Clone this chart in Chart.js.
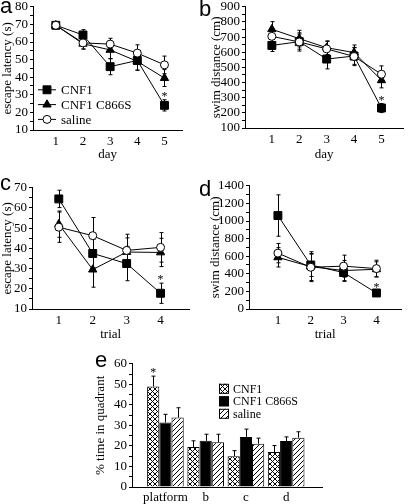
<!DOCTYPE html>
<html>
<head>
<meta charset="utf-8">
<script src="https://cdn.jsdelivr.net/npm/chart.js@4.4.1/dist/chart.umd.min.js"></script>
<style>
html, body { margin: 0; padding: 0; overflow: hidden; background: #fff; }
body { width: 408px; height: 504px; position: relative; }
canvas { position: absolute; }
.tag { position: absolute; font: 22px "Liberation Sans", Arial, sans-serif; line-height: 1; color: #000; }
</style>
</head>
<body>
<canvas id="chartA" width="189" height="170" style="left:0;top:-3px"></canvas>
<canvas id="chartB" width="206" height="170" style="left:204px;top:-3px"></canvas>
<canvas id="chartC" width="196" height="170" style="left:0;top:178px"></canvas>
<canvas id="chartD" width="204" height="172" style="left:204px;top:176px"></canvas>
<canvas id="chartE" width="238" height="150" style="left:90px;top:354px"></canvas>
<div class="tag" style="left:0;top:-5px">a</div>
<div class="tag" style="left:199px;top:-2px">b</div>
<div class="tag" style="left:0;top:172px">c</div>
<div class="tag" style="left:199px;top:178px">d</div>
<div class="tag" style="left:95px;top:349px">e</div>
<script>
const groups = ['CNF1', 'CNF1 C866S', 'saline'];
const days = [1, 2, 3, 4, 5];
const trials = [1, 2, 3, 4];
const quadrants = ['platform', 'b', 'c', 'd'];

// a: escape latency per day
const latDayCnf1 = [69.5, 64, 46, 49.5, 24];
const latDayCnf1Err = [1.5, 3, 4.6, 5.5, 3.2];
const latDayC866s = [69.5, 59, 55.5, 49, 39.5];
const latDayC866sErr = [2, 3, 5, 5, 4.8];
const latDaySaline = [69.5, 59.5, 58.8, 53.7, 47];
const latDaySalineErr = [1.5, 3.5, 3.3, 4.7, 5];
const latDayStar = [0, 0, 0, 0, 1];

// b: swim distance per day
const distDayCnf1 = [645, 670, 555, 575, 232];
const distDayCnf1Err = [40, 50, 65, 55, 30];
const distDayC866s = [752, 690, 630, 598, 415];
const distDayC866sErr = [50, 55, 45, 50, 50];
const distDaySaline = [705, 668, 622, 572, 455];
const distDaySalineErr = [50, 60, 50, 60, 55];
const distDayStar = [0, 0, 0, 0, 1];

// c: escape latency per trial
const latTrialCnf1 = [64.5, 37.5, 32.5, 17.8];
const latTrialCnf1Err = [4.3, 7, 8.5, 5];
const latTrialC866s = [52, 29.5, 38.2, 38];
const latTrialC866sErr = [6.5, 8.7, 7, 7];
const latTrialSaline = [50.5, 46.3, 39, 40.5];
const latTrialSalineErr = [7.5, 9, 8, 7.3];
const latTrialStar = [0, 0, 0, 1];

// d: swim distance per trial
const distTrialCnf1 = [1062, 500, 414, 182];
const distTrialCnf1Err = [235, 130, 100, 25];
const distTrialC866s = [587, 481, 437, 451];
const distTrialC866sErr = [110, 170, 115, 85];
const distTrialSaline = [635, 474, 487, 459];
const distTrialSalineErr = [110, 150, 125, 95];
const distTrialStar = [0, 0, 0, 1];

// e: % time in quadrant
const quadCnf1 = [49, 19.5, 15, 17];
const quadCnf1Err = [5, 3, 2.7, 3.2];
const quadC866s = [31.4, 22.5, 24.4, 22.4];
const quadC866sErr = [4, 3.2, 3.8, 2];
const quadSaline = [33.8, 21.8, 21.1, 24];
const quadSalineErr = [4.8, 3.9, 2.7, 2.9];
const quadStar = [1, 0, 0, 0];

const serif = "'Liberation Serif', 'Times New Roman', serif";
Chart.defaults.font.family = serif;
Chart.defaults.color = '#000';
const tickFont = { family: serif, size: 13 };
const titleFont = { family: serif, size: 13 };

const marks = ['rect', 'triangle', 'circle'];
const radii = [5.6, 4.8, 4];
const fills = ['#000', '#000', '#fff'];
const orders = [1, 2, 0];

function drawMark(ctx, style, x, y, r, fill) {
  ctx.beginPath();
  if (style === 'rect') {
    const s = r * Math.SQRT1_2;
    ctx.rect(x - s, y - s, 2 * s, 2 * s);
  } else if (style === 'triangle') {
    ctx.moveTo(x, y - r);
    ctx.lineTo(x + r * 0.866, y + r * 0.5);
    ctx.lineTo(x - r * 0.866, y + r * 0.5);
    ctx.closePath();
  } else {
    ctx.arc(x, y, r, 0, Math.PI * 2);
  }
  ctx.fillStyle = fill;
  ctx.fill();
  ctx.stroke();
}

const errorBars = {
  id: 'errorBars',
  beforeDatasetsDraw(chart) {
    const ctx = chart.ctx, ys = chart.scales.y;
    ctx.save();
    ctx.strokeStyle = '#000';
    ctx.lineWidth = 1;
    chart.data.datasets.forEach((ds, i) => {
      if (!ds.errors) return;
      chart.getDatasetMeta(i).data.forEach((el, j) => {
        const v = ds.data[j].y, e = ds.errors[j];
        const top = ys.getPixelForValue(v + e);
        const bot = ds.errUp ? ys.getPixelForValue(v) : ys.getPixelForValue(v - e);
        const x = Math.round(el.x) + 0.5;
        ctx.beginPath();
        ctx.moveTo(x, top); ctx.lineTo(x, bot);
        ctx.moveTo(x - 2, top); ctx.lineTo(x + 2, top);
        if (!ds.errUp) { ctx.moveTo(x - 2, bot); ctx.lineTo(x + 2, bot); }
        ctx.stroke();
      });
    });
    ctx.restore();
  },
  afterDatasetsDraw(chart) {
    const ctx = chart.ctx, ys = chart.scales.y;
    ctx.save();
    ctx.fillStyle = '#000';
    ctx.font = '12px ' + serif;
    ctx.textAlign = 'center';
    ctx.textBaseline = 'middle';
    chart.data.datasets.forEach((ds, i) => {
      if (!ds.stars) return;
      chart.getDatasetMeta(i).data.forEach((el, j) => {
        if (!ds.stars[j]) return;
        const top = ys.getPixelForValue(ds.data[j].y + ds.errors[j]);
        ctx.fillText('*', el.x, top - 3);
      });
    });
    ctx.restore();
  }
};

const legendAt = {
  id: 'legendAt',
  afterDraw(chart, args, o) {
    const ctx = chart.ctx, area = chart.chartArea;
    ctx.save();
    ctx.font = o.size + 'px ' + serif;
    ctx.textBaseline = 'middle';
    ctx.strokeStyle = '#000';
    ctx.lineWidth = 1;
    chart.data.datasets.forEach((ds, i) => {
      const x = area.left + o.x, y = area.top + o.y + i * o.gap;
      if (o.kind === 'line') {
        ctx.beginPath();
        ctx.moveTo(x, y); ctx.lineTo(x + 18, y);
        ctx.stroke();
        drawMark(ctx, marks[i], x + 9, y, radii[i], fills[i]);
      } else {
        ctx.fillStyle = ds.backgroundColor;
        ctx.fillRect(x, y - 5, 10, 10);
        ctx.strokeRect(x + 0.5, y - 4.5, 9, 9);
      }
      ctx.fillStyle = '#000';
      ctx.fillText(ds.label, x + o.textX, y + 1);
    });
    ctx.restore();
  }
};

function yAxis(p) {
  return {
    type: 'linear', min: p.yMin, max: p.yMax,
    afterFit: s => { s.width = p.yW; },
    grid: { display: true, drawOnChartArea: false, drawTicks: true, tickLength: 3, color: '#000' },
    border: { display: true, color: '#000', width: 1 },
    ticks: {
      stepSize: p.yStep / 2, autoSkip: false, padding: 2, color: '#000', font: tickFont,
      callback: v => (v % p.yStep === 0 ? v : '')
    },
    title: { display: true, text: p.yTitle, color: '#000', font: titleFont, padding: { top: p.yTitlePad, bottom: 0 } }
  };
}

function xAxis(p) {
  return {
    type: 'linear', min: p.xMin, max: p.xMax, offset: false,
    afterBuildTicks: s => { s.ticks = p.xVals.map(v => ({ value: v })); },
    afterFit: s => { s.height = p.xH; },
    grid: { display: false, drawTicks: false, offset: false },
    border: { display: true, color: '#000', width: 1 },
    ticks: {
      autoSkip: false, maxRotation: 0, padding: p.xTickPad, color: '#000', font: tickFont,
      callback: v => (p.xLabels ? p.xLabels[v] : v)
    },
    title: { display: !!p.xTitle, text: p.xTitle, color: '#000', font: titleFont, padding: { top: 0, bottom: p.xTitlePad } }
  };
}

function lineChart(id, p) {
  p.xVals = p.xs;
  new Chart(document.getElementById(id), {
    type: 'line',
    data: {
      datasets: p.series.map((s, i) => ({
        label: groups[i],
        data: p.xs.map((x, j) => ({ x: x, y: s[0][j] })),
        errors: s[1],
        stars: s[2],
        borderColor: '#000',
        borderWidth: 1,
        pointStyle: marks[i],
        pointRadius: radii[i],
        pointBackgroundColor: fills[i],
        pointBorderColor: '#000',
        pointBorderWidth: 1,
        order: orders[i]
      }))
    },
    options: {
      responsive: false,
      animation: false,
      layout: { padding: { top: 8, right: p.padR, left: 0, bottom: 0 } },
      plugins: { legend: { display: false }, tooltip: { enabled: false }, legendAt: p.legend || false },
      scales: { x: xAxis(p), y: yAxis(p) }
    },
    plugins: [errorBars, legendAt]
  });
}

lineChart('chartA', {
  xs: days, xMin: 0.16, xMax: 5.66, xH: 37, xTitle: 'day', xTitlePad: 5, xTickPad: 4,
  yMin: 10, yMax: 80, yStep: 10, yW: 33, yTitle: 'escape latency (s)', yTitlePad: 0, padR: 6,
  series: [[latDayCnf1, latDayCnf1Err, latDayStar], [latDayC866s, latDayC866sErr], [latDaySaline, latDaySalineErr]],
  legend: { kind: 'line', x: 5, y: 83, gap: 14.8, textX: 23, size: 13 }
});

lineChart('chartB', {
  xs: days, xMin: 0.02, xMax: 5.8, xH: 39, xTitle: 'day', xTitlePad: 5, xTickPad: 4,
  yMin: 100, yMax: 900, yStep: 100, yW: 41, yTitle: 'swim distance (cm)', yTitlePad: 5, padR: 6,
  series: [[distDayCnf1, distDayCnf1Err, distDayStar], [distDayC866s, distDayC866sErr], [distDaySaline, distDaySalineErr]]
});

lineChart('chartC', {
  xs: trials, xMin: 0.21, xMax: 4.85, xH: 39, xTitle: 'trial', xTitlePad: 6, xTickPad: 4,
  yMin: 10, yMax: 70, yStep: 10, yW: 32, yTitle: 'escape latency (s)', yTitlePad: 0, padR: 6,
  series: [[latTrialCnf1, latTrialCnf1Err, latTrialStar], [latTrialC866s, latTrialC866sErr], [latTrialSaline, latTrialSalineErr]]
});

lineChart('chartD', {
  xs: trials, xMin: 0.12, xMax: 4.76, xH: 39, xTitle: 'trial', xTitlePad: 6, xTickPad: 4,
  yMin: 0, yMax: 1400, yStep: 200, yW: 45, yTitle: 'swim distance (cm)', yTitlePad: 4, padR: 1,
  series: [[distTrialCnf1, distTrialCnf1Err, distTrialStar], [distTrialC866s, distTrialC866sErr], [distTrialSaline, distTrialSalineErr]]
});

// hatch fills for panel e
function hatch(cross) {
  const c = document.createElement('canvas');
  c.width = 5; c.height = 5;
  const g = c.getContext('2d');
  g.fillStyle = '#fff';
  g.fillRect(0, 0, 5, 5);
  g.strokeStyle = '#000';
  g.lineWidth = 1;
  g.beginPath();
  g.moveTo(-1, 6); g.lineTo(6, -1);
  if (cross) { g.moveTo(-1, -1); g.lineTo(6, 6); }
  g.stroke();
  return document.createElement('canvas').getContext('2d').createPattern(c, 'repeat');
}

const quadFills = [hatch(true), '#000', hatch(false)];
const quadSeries = [[quadCnf1, quadCnf1Err, quadStar], [quadC866s, quadC866sErr], [quadSaline, quadSalineErr]];

const pE = {
  xs: quadrants, xVals: [0, 1, 2, 3], xLabels: quadrants, xMin: -0.83, xMax: 3.89, xH: 17, xTitle: '', xTitlePad: 0, xTickPad: 3,
  yMin: 0, yMax: 60, yStep: 10, yW: 42, yTitle: '% time in quadrant', yTitlePad: 3
};

new Chart(document.getElementById('chartE'), {
  type: 'bar',
  data: {
    datasets: quadSeries.map((s, i) => ({
      label: groups[i],
      data: quadrants.map((q, j) => ({ x: j, y: s[0][j] })),
      errors: s[1],
      stars: s[2],
      errUp: true,
      backgroundColor: quadFills[i],
      borderColor: '#000',
      borderWidth: 1,
      categoryPercentage: 0.91,
      barPercentage: 1
    }))
  },
  options: {
    responsive: false,
    animation: false,
    layout: { padding: { top: 8, right: 6, left: 0, bottom: 0 } },
    plugins: {
      legend: { display: false }, tooltip: { enabled: false },
      legendAt: { kind: 'box', x: 87, y: 25, gap: 12.5, textX: 14, size: 12 }
    },
    scales: { x: xAxis(pE), y: yAxis(pE) }
  },
  plugins: [errorBars, legendAt]
});
</script>
</body>
</html>
